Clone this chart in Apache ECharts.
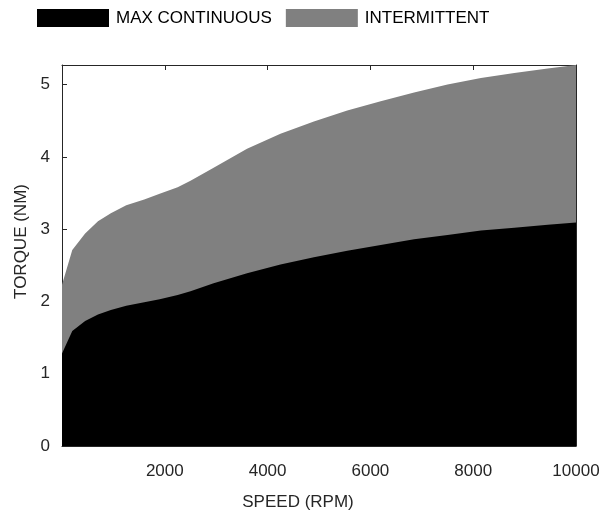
<!DOCTYPE html>
<html>
<head>
<meta charset="utf-8">
<script src="https://cdn.jsdelivr.net/npm/echarts@6/dist/echarts.min.js"></script>
<style>html,body{margin:0;padding:0;background:#fff}#c{width:605px;height:516px}</style>
</head>
<body>
<div id="c"></div>
<script>
const speeds = [0, 200, 450, 700, 950, 1250, 1600, 1900, 2250, 2500, 2950, 3600, 4250, 4900, 5550, 6200, 6850, 7500, 8150, 8800, 9450, 10000];
const maxContinuous = [1.28, 1.59, 1.73, 1.82, 1.88, 1.94, 1.99, 2.03, 2.09, 2.14, 2.25, 2.39, 2.51, 2.61, 2.70, 2.78, 2.86, 2.92, 2.98, 3.02, 3.06, 3.09];
const intermittent = [2.23, 2.71, 2.94, 3.11, 3.22, 3.33, 3.41, 3.49, 3.58, 3.67, 3.85, 4.11, 4.32, 4.49, 4.64, 4.77, 4.89, 5.00, 5.09, 5.16, 5.22, 5.27];
const xTicks = [2000, 4000, 6000, 8000, 10000];
const yTicks = [0, 1, 2, 3, 4, 5];
const seriesNames = ['MAX CONTINUOUS', 'INTERMITTENT'];

const font = 'Liberation Sans, Arial, Helvetica, sans-serif';
const axisColor = '#262626';
const pair = v => speeds.map((s, i) => [s, v[i]]);
const yMax = Math.max(...intermittent);

const chart = echarts.init(document.getElementById('c'), null, {renderer: 'canvas'});
const baseX = {
  type: 'value', min: 0, max: 10000, interval: 2000,
  axisLine: {show: true, onZero: false, lineStyle: {color: axisColor, width: 1}},
  axisTick: {show: true, inside: true, length: 5, lineStyle: {color: axisColor}},
  splitLine: {show: false}
};
const baseY = {
  type: 'value', min: 0, max: yMax, interval: 1,
  axisLine: {show: true, onZero: false, lineStyle: {color: axisColor, width: 1}},
  axisTick: {show: true, inside: true, length: 5, lineStyle: {color: axisColor}},
  splitLine: {show: false}
};
chart.setOption({
  animation: false,
  textStyle: {fontFamily: font},
  grid: {left: 62, right: 29, top: 65, bottom: 65, containLabel: false},
  legend: {
    data: seriesNames, left: 37, top: 9, padding: 0, itemWidth: 72, itemHeight: 18, itemGap: 14,
    icon: 'rect',
    textStyle: {fontSize: 17, color: '#000', fontFamily: font, padding: [0, 0, 0, 2]},
    itemStyle: {borderWidth: 0}
  },
  xAxis: [
    Object.assign({}, baseX, {
      position: 'bottom',
      name: 'SPEED (RPM)', nameLocation: 'middle', nameGap: 48,
      nameTextStyle: {fontSize: 17, color: axisColor, fontFamily: font, padding: [0, 42, 0, 0]},
      axisLabel: {fontSize: 17, color: axisColor, fontFamily: font, margin: 17,
        formatter: v => xTicks.includes(v) ? String(v) : ''}
    }),
    Object.assign({}, baseX, {position: 'top', axisLabel: {show: false}})
  ],
  yAxis: [
    Object.assign({}, baseY, {
      position: 'left',
      name: 'TORQUE (NM)', nameLocation: 'middle', nameGap: 31,
      nameTextStyle: {fontSize: 17, color: axisColor, fontFamily: font, padding: [0, 0, 0, 28]},
      axisLabel: {fontSize: 17, color: axisColor, fontFamily: font, margin: 12,
        customValues: yTicks, formatter: v => String(v)}
    }),
    Object.assign({}, baseY, {position: 'right', axisLabel: {show: false}})
  ],
  series: [
    {
      name: seriesNames[1], type: 'line', data: pair(intermittent),
      xAxisIndex: 0, yAxisIndex: 0, symbol: 'none', smooth: false,
      lineStyle: {width: 0, color: '#808080'}, itemStyle: {color: '#808080'},
      areaStyle: {color: '#808080', opacity: 1}, z: 2
    },
    {
      name: seriesNames[0], type: 'line', data: pair(maxContinuous),
      xAxisIndex: 0, yAxisIndex: 0, symbol: 'none', smooth: false,
      lineStyle: {width: 0, color: '#000'}, itemStyle: {color: '#000'},
      areaStyle: {color: '#000', opacity: 1}, z: 3
    }
  ]
});
</script>
</body>
</html>
